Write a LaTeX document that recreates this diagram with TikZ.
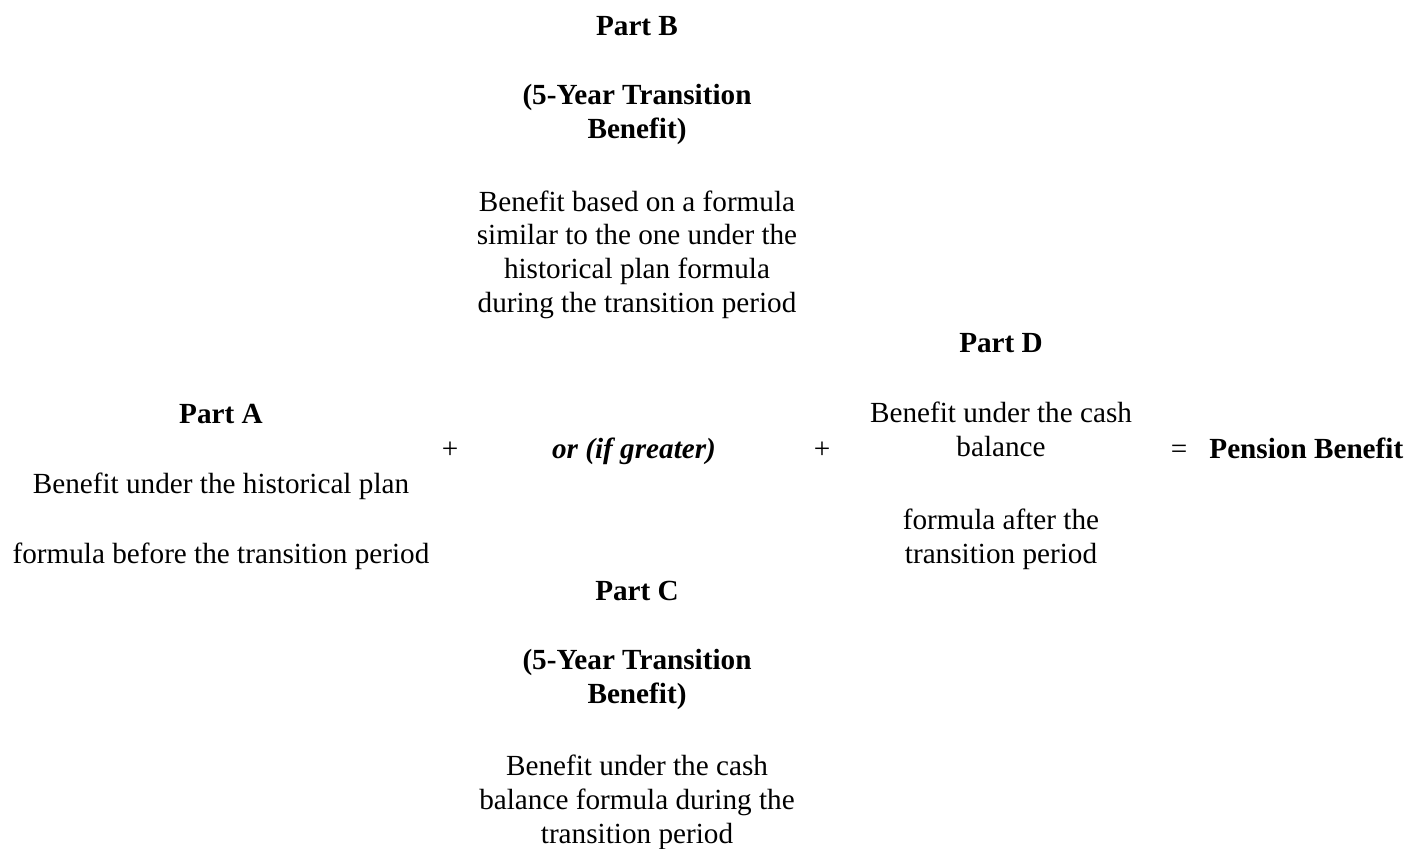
\documentclass[tikz,border=0pt]{standalone}
\usepackage{fontspec}
\setmainfont{Liberation Serif}

\begin{document}
\begin{tikzpicture}[x=0.5pt,y=-0.5pt]
  \tikzstyle{txt}=[inner sep=0pt,anchor=base,align=center,font=\fontsize{14.6}{16.8}\selectfont]
  \tikzstyle{head}=[txt,font=\fontsize{14.6}{16.8}\selectfont\bfseries]
  \useasboundingbox (0,0) rectangle (1407,848);

  % multi-line nodes sit on the baseline of their last line
  \node[head] (B_0) at (637,35) {Part B};
  \node[head] (B_1) at (637,138) {(5-Year Transition\\Benefit)};
  \node[txt] (B_2) at (637,312) {Benefit based on a formula\\similar to the one under the\\historical plan formula\\during the transition period};

  \node[head] (A_0) at (221,423) {Part A};
  \node[txt] (A_1) at (221,493) {Benefit under the historical plan};
  \node[txt] (A_2) at (221,563) {formula before the transition period};

  \node[txt] (P_1) at (450,458) {+};
  \node[head] (OR) at (634,458) {\itshape or (if greater)};
  \node[txt] (P_2) at (822,458) {+};

  \node[head] (D_0) at (1001,352) {Part D};
  \node[txt] (D_1) at (1001,456) {Benefit under the cash\\balance};
  \node[txt] (D_2) at (1001,563) {formula after the\\transition period};

  \node[txt] (EQ) at (1179,458) {=};
  \node[head,anchor=base west] (PB) at (1209,458) {Pension Benefit};

  \node[head] (C_0) at (637,600) {Part C};
  \node[head] (C_1) at (637,703) {(5-Year Transition\\Benefit)};
  \node[txt] (C_2) at (637,843) {Benefit under the cash\\balance formula during the\\transition period};

\end{tikzpicture}
\end{document}
